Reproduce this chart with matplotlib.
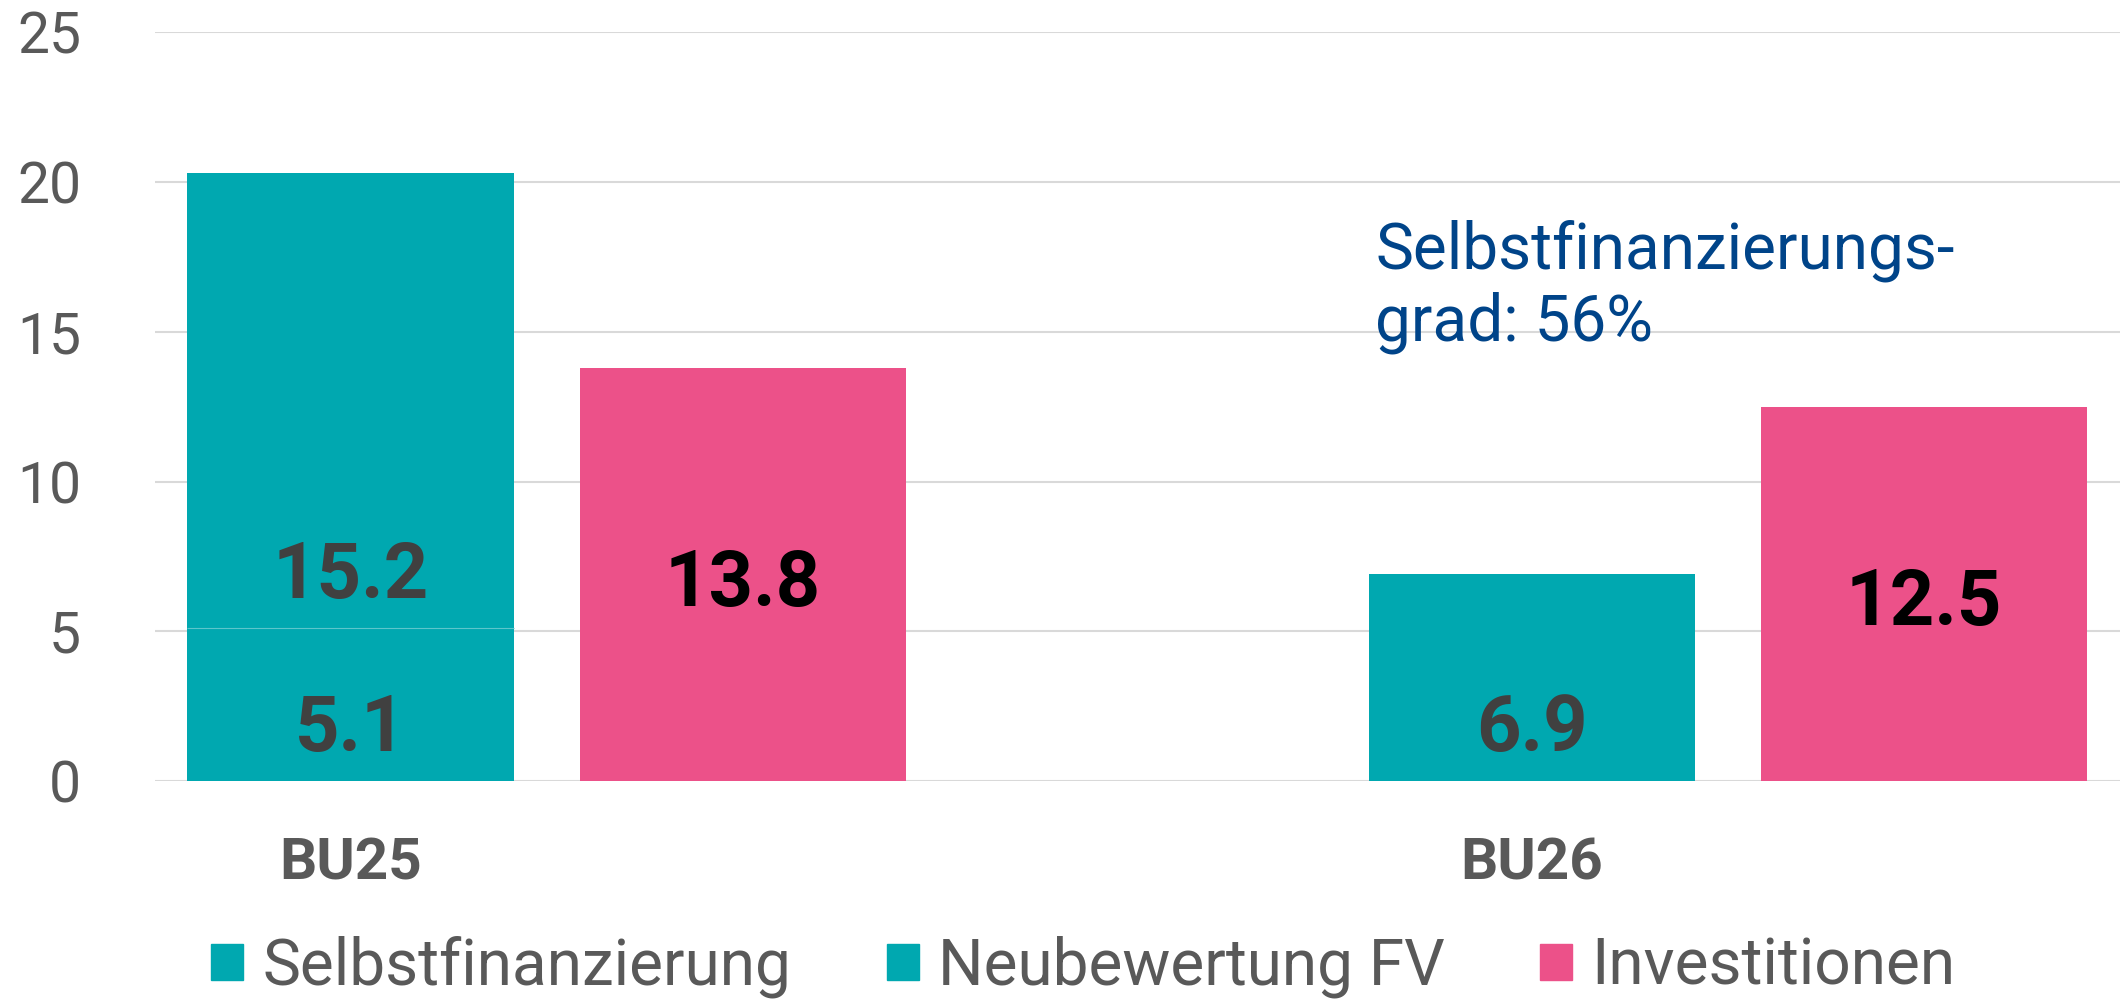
import matplotlib.pyplot as plt
import numpy as np
from matplotlib.patches import Patch

plt.rcParams['font.family'] = ['Roboto', 'DejaVu Sans']

categories = ['BU25', 'BU26']
selbstfinanzierung = [5.1, 6.9]
neubewertung_fv = [15.2, 0.0]
investitionen = [13.8, 12.5]
series_names = ['Selbstfinanzierung', 'Neubewertung FV', 'Investitionen']
note = 'Selbstfinanzierungs-\ngrad: 56%'

teal = '#00A8B0'
pink = '#EC5189'
grey = '#595959'

fig = plt.figure(figsize=(21.2, 9.99), dpi=100)
ax = fig.add_axes([0.073, 0.218, 0.927, 0.750])

x = np.arange(len(categories)) * 3.615
w = 1.0
x_inv = x + 1.2

sf = np.array(selbstfinanzierung)
nb = np.array(neubewertung_fv)
inv = np.array(investitionen)

ax.bar(x, sf, w, color=teal, zorder=2)
ax.bar(x, nb, w, bottom=sf, color=teal, zorder=2)
# faint seam between the stacked segments
for i in range(len(categories)):
    if nb[i] > 0:
        ax.hlines(sf[i], x[i] - w / 2, x[i] + w / 2, color='#5cc6cb',
                  linewidth=0.8, zorder=2.5)
ax.bar(x_inv, inv, w, color=pink, zorder=2)

# value labels
for i in range(len(categories)):
    ax.text(x[i], 1.7, f'{sf[i]:.1f}', ha='center', va='center',
            fontsize=56, fontweight='bold', color='#404040', zorder=3)
    if nb[i] > 0:
        ax.text(x[i], 6.8, f'{nb[i]:.1f}', ha='center', va='center',
                fontsize=56, fontweight='bold', color='#404040', zorder=3)
    ax.text(x_inv[i], inv[i] / 2 - 0.35, f'{inv[i]:.1f}', ha='center', va='center',
            fontsize=56, fontweight='bold', color='black', zorder=3)

ax.text(x[1] - 0.48, 16.5, note, ha='left', va='center', fontsize=46,
        color='#004489', linespacing=1.2, zorder=3)

ax.set_ylim(0, 25)
ax.set_xlim(x[0] - 0.6, x[1] + 1.2 + 0.5 + 0.1)
ax.set_yticks([0, 5, 10, 15, 20, 25])
ax.set_xticks(x)
ax.set_xticklabels(categories, fontsize=42, fontweight='bold', color=grey)
ax.tick_params(axis='y', labelsize=41, labelcolor=grey, length=0, pad=53)
ax.tick_params(axis='x', length=0, pad=40)
ax.grid(axis='y', color='#d9d9d9', linewidth=1.5, zorder=0)
for s in ax.spines.values():
    s.set_visible(False)

handles = [Patch(color=teal), Patch(color=teal), Patch(color=pink)]
fig.legend(handles, series_names, loc='center', bbox_to_anchor=(0.511, 0.032),
           ncol=3, frameon=False, fontsize=46, handlelength=0.5, handleheight=0.5,
           handletextpad=0.3, columnspacing=1.5, labelcolor=grey)

fig.savefig('out.png', dpi=100)
